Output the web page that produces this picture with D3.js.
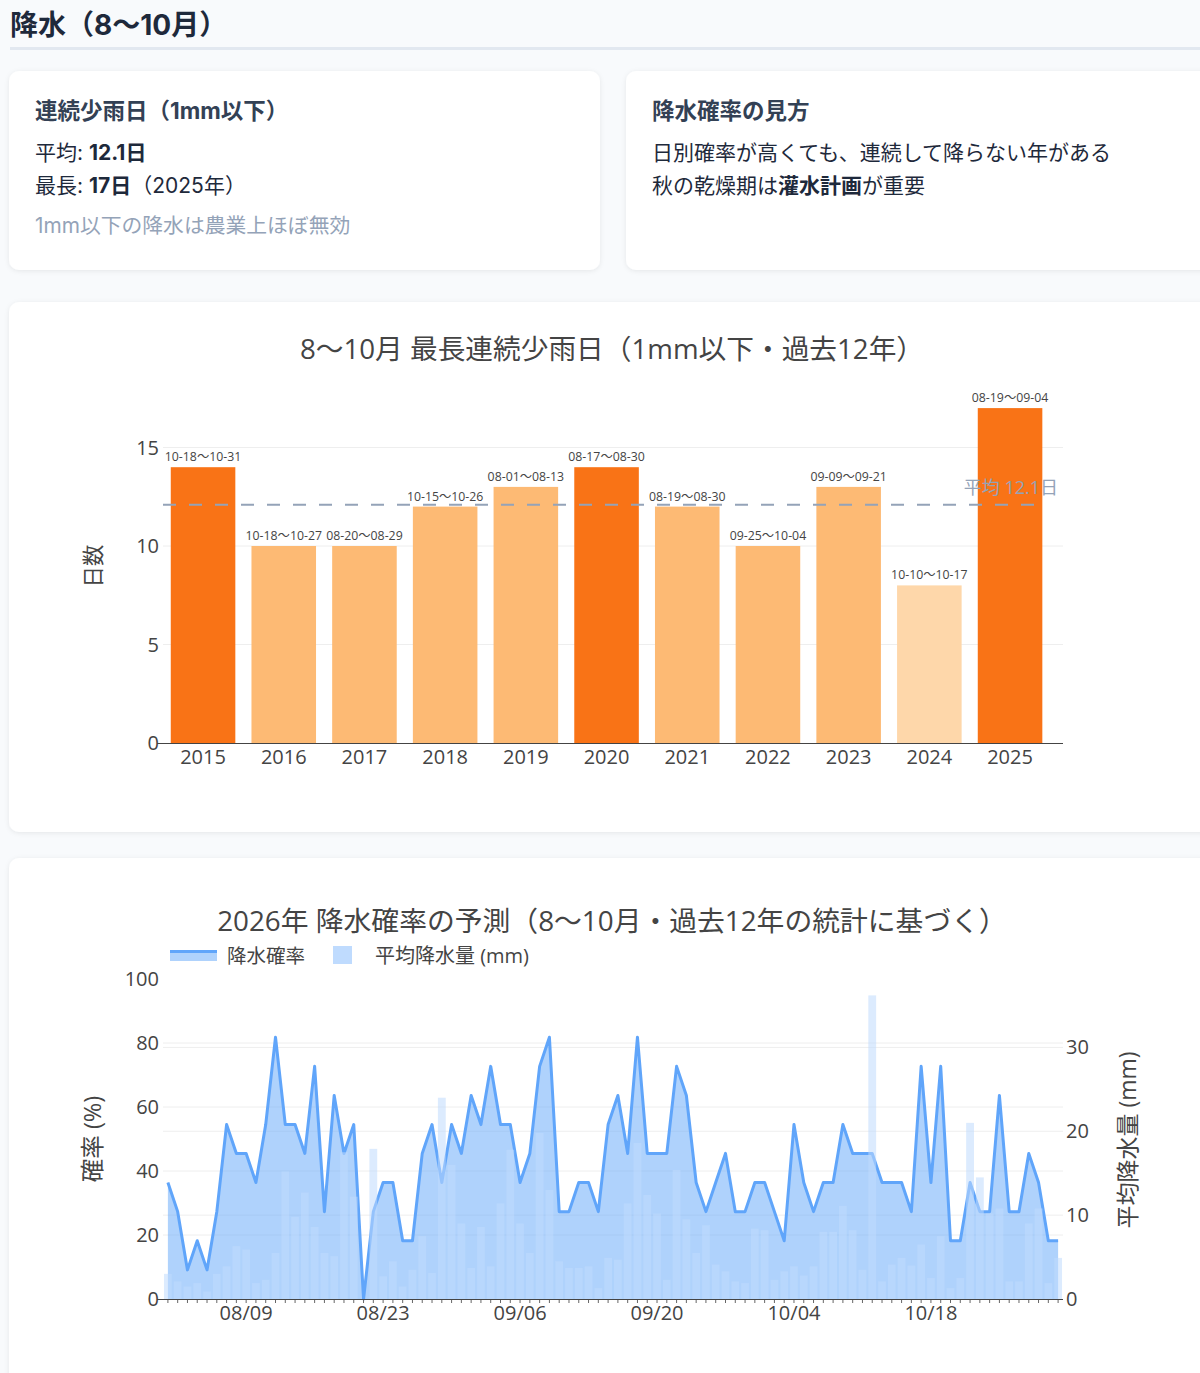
<!DOCTYPE html>
<html><head><meta charset="utf-8">
<script src="https://cdn.jsdelivr.net/npm/d3@7"></script>
<style>
html,body{margin:0;padding:0;background:#f8fafc;}
svg{display:block;}
</style>
</head><body>
<svg id="c" width="1200" height="1373"></svg>
<script>
// ---------- data ----------
const years = ["2015","2016","2017","2018","2019","2020","2021","2022","2023","2024","2025"];
const maxDryDays = [14,10,10,12,13,14,12,10,13,8,17];
const dryPeriods = ["10-18〜10-31","10-18〜10-27","08-20〜08-29","10-15〜10-26","08-01〜08-13","08-17〜08-30","08-19〜08-30","09-25〜10-04","09-09〜09-21","10-10〜10-17","08-19〜09-04"];
const avgDryDays = 12.1;
const barTicks = [0,5,10,15];

// daily rain probability (%) Aug 1 .. Oct 31
const rainProb = [
 36.4,27.3,9.1,18.2,9.1,27.3,54.5,45.5,45.5,36.4,54.5,81.8,54.5,54.5,45.5,72.7,27.3,63.6,45.5,54.5,0,27.3,36.4,36.4,18.2,18.2,45.5,54.5,36.4,54.5,45.5,
 63.6,54.5,72.7,54.5,54.5,36.4,45.5,72.7,81.8,27.3,27.3,36.4,36.4,27.3,54.5,63.6,45.5,81.8,45.5,45.5,45.5,72.7,63.6,36.4,27.3,36.4,45.5,27.3,27.3,36.4,
 36.4,27.3,18.2,54.5,36.4,27.3,36.4,36.4,54.5,45.5,45.5,45.5,36.4,36.4,36.4,27.3,72.7,36.4,72.7,18.2,18.2,36.4,27.3,27.3,63.6,27.3,27.3,45.5,36.4,18.2,18.2
];
// daily average precipitation (mm)
const avgRain = [
 3.0,2.1,1.5,1.9,0.9,3.0,3.9,6.3,5.9,1.9,2.3,5.5,15.2,9.8,12.7,8.6,5.5,5.1,17.5,12.2,0,17.9,2.7,4.5,1.5,3.5,7.5,3.1,24.0,16.0,9.0,
 3.7,8.6,3.9,11.4,17.8,9.0,5.5,19.8,13.0,4.5,3.7,3.7,3.9,1.3,4.9,4.7,11.4,18.6,12.4,10.2,2.3,15.4,9.5,5.5,8.8,4.1,3.3,2.1,1.9,8.4,
 8.2,2.3,3.3,3.9,2.8,3.9,8.0,8.0,11.1,8.2,3.5,36.2,2.1,4.1,4.9,4.0,6.5,2.5,7.5,1.3,2.5,21.0,14.5,10.2,10.8,2.1,2.1,9.0,10.8,1.9,4.9
];
const probTicks = [0,20,40,60,80,100];
const rainTicks = [0,10,20,30];
const dateTickLabels = ["08/09","08/23","09/06","09/20","10/04","10/18"];

// ---------- drawing ----------
const svg = d3.select("#c");
const PL = "'Open Sans', 'Noto Sans CJK JP', sans-serif";
const UI = "Inter, 'Noto Sans CJK JP', sans-serif";

const defs = svg.append("defs");
const f = defs.append("filter").attr("id","sh").attr("x","-5%").attr("y","-5%").attr("width","110%").attr("height","120%");
f.append("feDropShadow").attr("dx",0).attr("dy",1).attr("stdDeviation",2.5).attr("flood-color","#0f172a").attr("flood-opacity",0.08);

svg.append("rect").attr("width",1200).attr("height",1373).attr("fill","#f8fafc");

// header
svg.append("text").attr("x",10).attr("y",35).attr("font-family",UI).attr("font-size",28).attr("font-weight",700)
  .attr("fill","#1e293b").text("降水（8〜10月）");
svg.append("line").attr("x1",10).attr("x2",1200).attr("y1",48.5).attr("y2",48.5).attr("stroke","#e2e8f0").attr("stroke-width",3);

// cards
function card(x,y,w,h){
  svg.append("rect").attr("x",x).attr("y",y).attr("width",w).attr("height",h).attr("rx",10)
    .attr("fill","#ffffff").attr("filter","url(#sh)");
}
card(9,71,591,199);
card(626,71,620,199);
card(9,302,1220,530);
card(9,858,1220,560);

function richText(x,y,size,color,parts){
  const t = svg.append("text").attr("x",x).attr("y",y).attr("font-family",UI).attr("font-size",size).attr("fill",color);
  parts.forEach(p=>{ t.append("tspan").attr("font-weight",p[1]?700:400).text(p[0]); });
  return t;
}
richText(35,119,22.5,"#334155",[["連続少雨日（1mm以下）",1]]);
richText(35,160,21,"#1e293b",[["平均: ",0],["12.1日",1]]);
richText(35,193,21,"#1e293b",[["最長: ",0],["17日",1],["（2025年）",0]]);
richText(35,233,20.8,"#94a3b8",[["1mm以下の降水は農業上ほぼ無効",0]]);

richText(652,119,22.5,"#334155",[["降水確率の見方",1]]);
richText(652,160,21,"#1e293b",[["日別確率が高くても、連続して降らない年がある",0]]);
richText(652,193,21,"#1e293b",[["秋の乾燥期は",0],["灌水計画",1],["が重要",0]]);

// ---------- bar chart ----------
const bx = d3.scaleBand().domain(years).range([162.7,1050.4]).paddingInner(0.2).paddingOuter(0.1);
const by = d3.scaleLinear().domain([0,18.5]).range([743,743-18.5*19.7]);
const plotL = 163, plotR = 1063;

svg.append("text").attr("x",612).attr("y",359).attr("text-anchor","middle").attr("font-family",PL)
  .attr("font-size",27.7).attr("fill","#444").text("8〜10月 最長連続少雨日（1mm以下・過去12年）");

const bg = svg.append("g");
barTicks.filter(t=>t>0).forEach(t=>{
  bg.append("line").attr("x1",plotL).attr("x2",plotR).attr("y1",by(t)).attr("y2",by(t)).attr("stroke","#eeeeee").attr("stroke-width",1);
});
barTicks.forEach(t=>{
  bg.append("text").attr("x",159).attr("y",by(t)+7).attr("text-anchor","end").attr("font-family",PL)
    .attr("font-size",20).attr("fill","#444").text(t);
});
svg.append("text").attr("transform",`translate(101,566) rotate(-90)`).attr("text-anchor","middle")
  .attr("font-family",PL).attr("font-size",21.5).attr("fill","#444").text("日数");

function barColor(v){ return v>=14 ? "#f97316" : (v>=10 ? "#fdba74" : "#fed7aa"); }
const barData = years.map((y,i)=>({year:y,v:maxDryDays[i],p:dryPeriods[i]}));
svg.append("g").selectAll("rect").data(barData).join("rect")
  .attr("x",d=>bx(d.year)).attr("width",bx.bandwidth())
  .attr("y",d=>by(d.v)).attr("height",d=>by(0)-by(d.v))
  .attr("fill",d=>barColor(d.v));
svg.append("g").selectAll("text").data(barData).join("text")
  .attr("x",d=>bx(d.year)+bx.bandwidth()/2).attr("y",d=>by(d.v)-6)
  .attr("text-anchor","middle").attr("font-family",PL).attr("font-size",12.3).attr("fill","#444")
  .text(d=>d.p);

svg.append("line").attr("x1",157).attr("x2",plotR).attr("y1",743.5).attr("y2",743.5).attr("stroke","#444").attr("stroke-width",1.2);
svg.append("g").selectAll("text.yr").data(years).join("text")
  .attr("x",d=>bx(d)+bx.bandwidth()/2).attr("y",764).attr("text-anchor","middle")
  .attr("font-family",PL).attr("font-size",20).attr("fill","#444").text(d=>d);

// average line
svg.append("line").attr("x1",plotL).attr("x2",1043).attr("y1",by(avgDryDays)).attr("y2",by(avgDryDays))
  .attr("stroke","#94a3b8").attr("stroke-width",2).attr("stroke-dasharray","13,13");
svg.append("text").attr("x",1058).attr("y",by(avgDryDays)-11).attr("text-anchor","end")
  .attr("font-family",PL).attr("font-size",18).attr("fill","#94a3b8").text("平均 " + avgDryDays + "日");

// ---------- probability chart ----------
const dates = d3.timeDay.range(new Date(2026,7,1), new Date(2026,10,1));
const xt = d3.scaleTime().domain([new Date(2026,6,31,12), new Date(2026,9,31,12)]).range([plotL,plotR]);
const yl = d3.scaleLinear().domain([0,100]).range([1299,979]);
const yr = d3.scaleLinear().domain([0,d3.max(avgRain)*1.054]).range([1299,979]);

svg.append("text").attr("x",612).attr("y",931).attr("text-anchor","middle").attr("font-family",PL)
  .attr("font-size",27.8).attr("fill","#444").text("2026年 降水確率の予測（8〜10月・過去12年の統計に基づく）");

// legend
svg.append("rect").attr("x",170).attr("y",951).attr("width",47).attr("height",10).attr("fill","rgba(96,165,250,0.5)");
svg.append("line").attr("x1",170).attr("x2",217).attr("y1",951.5).attr("y2",951.5).attr("stroke","#60a5fa").attr("stroke-width",3);
svg.append("text").attr("x",227).attr("y",963).attr("font-family",PL).attr("font-size",19.5).attr("fill","#444").text("降水確率");
svg.append("rect").attr("x",333).attr("y",946).attr("width",19).attr("height",18).attr("fill","#bfdbfe");
svg.append("text").attr("x",375).attr("y",963).attr("font-family",PL).attr("font-size",20).attr("fill","#444").text("平均降水量 (mm)");

// grid
probTicks.filter(t=>t>0 && t<100).forEach(t=>{
  svg.append("line").attr("x1",plotL).attr("x2",plotR).attr("y1",yl(t)).attr("y2",yl(t)).attr("stroke","#eeeeee");
});
rainTicks.filter(t=>t>0).forEach(t=>{
  svg.append("line").attr("x1",plotL).attr("x2",plotR).attr("y1",yr(t)).attr("y2",yr(t)).attr("stroke","#eeeeee");
});
probTicks.forEach(t=>{
  svg.append("text").attr("x",159).attr("y",yl(t)+7).attr("text-anchor","end").attr("font-family",PL)
    .attr("font-size",20).attr("fill","#444").text(t);
});
rainTicks.forEach(t=>{
  svg.append("text").attr("x",1066).attr("y",yr(t)+7).attr("text-anchor","start").attr("font-family",PL)
    .attr("font-size",20).attr("fill","#444").text(t);
});
svg.append("text").attr("transform",`translate(101,1139) rotate(-90)`).attr("text-anchor","middle")
  .attr("font-family",PL).attr("font-size",23.5).attr("fill","#444").text("確率 (%)");
svg.append("text").attr("transform",`translate(1136,1140) rotate(-90)`).attr("text-anchor","middle")
  .attr("font-family",PL).attr("font-size",23).attr("fill","#444").text("平均降水量 (mm)");

const series = dates.map((d,i)=>({d, p:rainProb[i], r:avgRain[i]}));
const area = d3.area().x(s=>xt(s.d)).y0(yl(0)).y1(s=>yl(s.p));
const line = d3.line().x(s=>xt(s.d)).y(s=>yl(s.p));
svg.append("path").datum(series).attr("d",area).attr("fill","rgba(96,165,250,0.5)");
svg.append("path").datum(series).attr("d",line).attr("fill","none").attr("stroke","#60a5fa")
  .attr("stroke-width",3).attr("stroke-linejoin","round");

const dayW = xt(new Date(2026,7,2)) - xt(new Date(2026,7,1));
const bw = dayW*0.8;
svg.append("g").selectAll("rect").data(series).join("rect")
  .attr("x",s=>xt(s.d)-bw/2).attr("width",bw)
  .attr("y",s=>yr(s.r)).attr("height",s=>yr(0)-yr(s.r))
  .attr("fill","rgba(191,219,254,0.55)");

// x axis
svg.append("line").attr("x1",157).attr("x2",plotR).attr("y1",1299.5).attr("y2",1299.5).attr("stroke","#444").attr("stroke-width",1.2);
svg.append("g").selectAll("line").data(dates).join("line")
  .attr("x1",d=>xt(d)).attr("x2",d=>xt(d)).attr("y1",1300).attr("y2",1303).attr("stroke","#666").attr("stroke-width",1);
const parseTick = d3.timeParse("%Y/%m/%d");
const tickDates = dateTickLabels.map(l=>parseTick("2026/"+l));
svg.append("g").selectAll("text").data(tickDates).join("text")
  .attr("x",d=>xt(d)).attr("y",1320).attr("text-anchor","middle").attr("font-family",PL)
  .attr("font-size",20).attr("fill","#444").text(d3.timeFormat("%m/%d"));
</script>
</body></html>
